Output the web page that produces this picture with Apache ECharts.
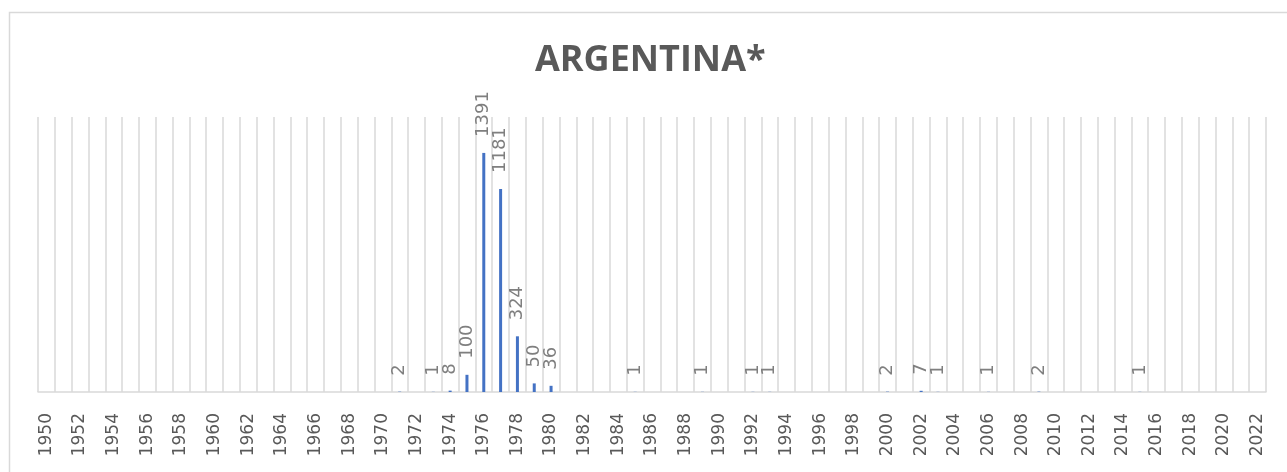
<!DOCTYPE html>
<html>
<head>
<meta charset="utf-8">
<script src="https://cdn.jsdelivr.net/npm/echarts@6/dist/echarts.min.js"></script>
<style>
  html, body { margin: 0; padding: 0; background: #fff; }
  #chart { width: 1287px; height: 472px; }
</style>
</head>
<body>
<div id="chart"></div>
<script>
// years on the category axis
const years = [
  '1950', '1951', '1952', '1953', '1954', '1955', '1956', '1957', '1958', '1959',
  '1960', '1961', '1962', '1963', '1964', '1965', '1966', '1967', '1968', '1969',
  '1970', '1971', '1972', '1973', '1974', '1975', '1976', '1977', '1978', '1979',
  '1980', '1981', '1982', '1983', '1984', '1985', '1986', '1987', '1988', '1989',
  '1990', '1991', '1992', '1993', '1994', '1995', '1996', '1997', '1998', '1999',
  '2000', '2001', '2002', '2003', '2004', '2005', '2006', '2007', '2008', '2009',
  '2010', '2011', '2012', '2013', '2014', '2015', '2016', '2017', '2018', '2019',
  '2020', '2021', '2022'
];

// years that have a value, and the values
const eventYears = ['1971', '1973', '1974', '1975', '1976', '1977', '1978', '1979', '1980',
  '1985', '1989', '1992', '1993', '2000', '2002', '2003', '2006', '2009', '2015'];
const counts = [2, 1, 8, 100, 1391, 1181, 324, 50, 36,
  1, 1, 1, 1, 2, 7, 1, 1, 2, 1];

const titleText = 'ARGENTINA*';

const seriesData = years.map(y => {
  const i = eventYears.indexOf(y);
  return i >= 0 ? counts[i] : 0;
});

const chart = echarts.init(document.getElementById('chart'));

const option = {
  backgroundColor: '#fff',
  animation: false,
  title: {
    text: titleText,
    left: 530,
    top: 38,
    textStyle: {
      fontFamily: 'Open Sans',
      fontWeight: 'bold',
      fontSize: 36,
      color: '#595959'
    }
  },
  graphic: [
    {
      type: 'rect',
      shape: { x: 9.5, y: 12.5, width: 1300, height: 500 },
      style: { fill: 'none', stroke: '#d9d9d9', lineWidth: 1.5 },
      silent: true
    }
  ],
  grid: {
    left: 38,
    right: 21,
    top: 117,
    bottom: 80
  },
  xAxis: {
    type: 'category',
    data: years,
    axisLine: { lineStyle: { color: '#d9d9d9', width: 1.5 } },
    axisTick: { show: false },
    splitLine: { show: true, interval: 0, lineStyle: { color: '#d9d9d9', width: 1.5 } },
    axisLabel: {
      interval: 1,
      rotate: 90,
      margin: 21,
      color: '#595959',
      fontFamily: 'DejaVu Sans',
      fontSize: 17
    }
  },
  yAxis: {
    type: 'value',
    min: 0,
    max: 1600,
    show: false,
    splitLine: { show: false }
  },
  series: [
    {
      type: 'bar',
      data: seriesData,
      barWidth: 3,
      itemStyle: { color: '#4472c4' },
      label: {
        show: true,
        position: 'top',
        rotate: 90,
        align: 'left',
        verticalAlign: 'middle',
        distance: 16,
        color: '#7f7f7f',
        fontFamily: 'DejaVu Sans',
        fontSize: 18,
        formatter: p => (p.value ? String(p.value) : '')
      }
    }
  ]
};

chart.setOption(option);
</script>
</body>
</html>
